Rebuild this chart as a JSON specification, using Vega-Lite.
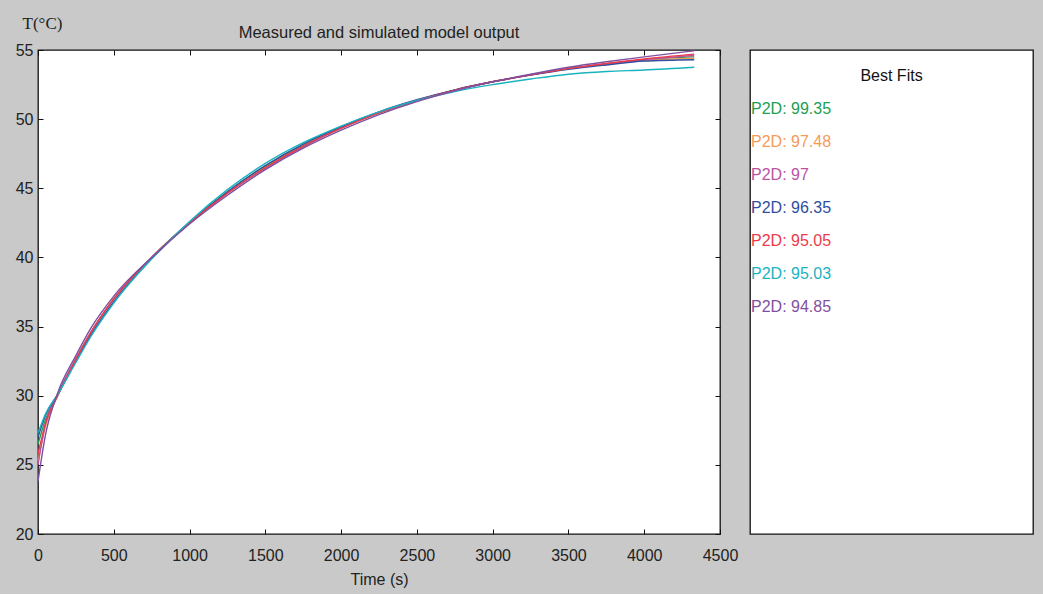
{
  "$schema": "https://vega.github.io/schema/vega-lite/v6.json",
  "background": "#c8c9c8",
  "padding": {"left": 14, "top": 13, "right": 10, "bottom": 6},
  "bounds": "flush",
  "spacing": 30,
  "config": {
    "font": "Liberation Sans",
    "view": {"stroke": "#111111", "strokeWidth": 1.3, "fill": "white"},
    "axis": {
      "grid": false,
      "domain": false,
      "labelFlush": false,
      "tickColor": "#111111",
      "tickSize": -5,
      "labelFont": "Liberation Sans",
      "labelFontSize": 16,
      "labelColor": "#222222",
      "titleFontWeight": "normal",
      "titleColor": "#222222"
    }
  },
  "datasets": {
    "curves": [
      {"series": "P2D: 99.35", "t": 0, "T": 26.5}, {"series": "P2D: 99.35", "t": 50, "T": 28.3}, {"series": "P2D: 99.35", "t": 130, "T": 30.0}, {"series": "P2D: 99.35", "t": 250, "T": 32.6}, {"series": "P2D: 99.35", "t": 350, "T": 34.6}, {"series": "P2D: 99.35", "t": 500, "T": 37.0}, {"series": "P2D: 99.35", "t": 750, "T": 40.0}, {"series": "P2D: 99.35", "t": 1000, "T": 42.55}, {"series": "P2D: 99.35", "t": 1250, "T": 44.75}, {"series": "P2D: 99.35", "t": 1500, "T": 46.6}, {"series": "P2D: 99.35", "t": 1750, "T": 48.1}, {"series": "P2D: 99.35", "t": 2000, "T": 49.35}, {"series": "P2D: 99.35", "t": 2250, "T": 50.45}, {"series": "P2D: 99.35", "t": 2500, "T": 51.35}, {"series": "P2D: 99.35", "t": 2750, "T": 52.1}, {"series": "P2D: 99.35", "t": 3000, "T": 52.7}, {"series": "P2D: 99.35", "t": 3250, "T": 53.2}, {"series": "P2D: 99.35", "t": 3500, "T": 53.65}, {"series": "P2D: 99.35", "t": 3750, "T": 54.0}, {"series": "P2D: 99.35", "t": 4000, "T": 54.3}, {"series": "P2D: 99.35", "t": 4330, "T": 54.5},
      {"series": "P2D: 97.48", "t": 0, "T": 25.3}, {"series": "P2D: 97.48", "t": 50, "T": 27.8}, {"series": "P2D: 97.48", "t": 130, "T": 30.0}, {"series": "P2D: 97.48", "t": 250, "T": 32.6}, {"series": "P2D: 97.48", "t": 350, "T": 34.6}, {"series": "P2D: 97.48", "t": 500, "T": 37.0}, {"series": "P2D: 97.48", "t": 750, "T": 40.0}, {"series": "P2D: 97.48", "t": 1000, "T": 42.5}, {"series": "P2D: 97.48", "t": 1250, "T": 44.65}, {"series": "P2D: 97.48", "t": 1500, "T": 46.5}, {"series": "P2D: 97.48", "t": 1750, "T": 48.05}, {"series": "P2D: 97.48", "t": 2000, "T": 49.35}, {"series": "P2D: 97.48", "t": 2250, "T": 50.45}, {"series": "P2D: 97.48", "t": 2500, "T": 51.35}, {"series": "P2D: 97.48", "t": 2750, "T": 52.1}, {"series": "P2D: 97.48", "t": 3000, "T": 52.7}, {"series": "P2D: 97.48", "t": 3250, "T": 53.2}, {"series": "P2D: 97.48", "t": 3500, "T": 53.65}, {"series": "P2D: 97.48", "t": 3750, "T": 54.0}, {"series": "P2D: 97.48", "t": 4000, "T": 54.25}, {"series": "P2D: 97.48", "t": 4330, "T": 54.4},
      {"series": "P2D: 97", "t": 0, "T": 25.0}, {"series": "P2D: 97", "t": 50, "T": 28.0}, {"series": "P2D: 97", "t": 130, "T": 30.1}, {"series": "P2D: 97", "t": 250, "T": 32.7}, {"series": "P2D: 97", "t": 350, "T": 34.6}, {"series": "P2D: 97", "t": 500, "T": 37.0}, {"series": "P2D: 97", "t": 750, "T": 40.0}, {"series": "P2D: 97", "t": 1000, "T": 42.5}, {"series": "P2D: 97", "t": 1250, "T": 44.65}, {"series": "P2D: 97", "t": 1500, "T": 46.45}, {"series": "P2D: 97", "t": 1750, "T": 48.0}, {"series": "P2D: 97", "t": 2000, "T": 49.35}, {"series": "P2D: 97", "t": 2250, "T": 50.45}, {"series": "P2D: 97", "t": 2500, "T": 51.35}, {"series": "P2D: 97", "t": 2750, "T": 52.1}, {"series": "P2D: 97", "t": 3000, "T": 52.7}, {"series": "P2D: 97", "t": 3250, "T": 53.2}, {"series": "P2D: 97", "t": 3500, "T": 53.65}, {"series": "P2D: 97", "t": 3750, "T": 54.0}, {"series": "P2D: 97", "t": 4000, "T": 54.3}, {"series": "P2D: 97", "t": 4330, "T": 54.6},
      {"series": "P2D: 96.35", "t": 0, "T": 27.0}, {"series": "P2D: 96.35", "t": 50, "T": 28.6}, {"series": "P2D: 96.35", "t": 130, "T": 30.1}, {"series": "P2D: 96.35", "t": 250, "T": 32.5}, {"series": "P2D: 96.35", "t": 350, "T": 34.4}, {"series": "P2D: 96.35", "t": 500, "T": 36.8}, {"series": "P2D: 96.35", "t": 750, "T": 39.9}, {"series": "P2D: 96.35", "t": 1000, "T": 42.5}, {"series": "P2D: 96.35", "t": 1250, "T": 44.75}, {"series": "P2D: 96.35", "t": 1500, "T": 46.65}, {"series": "P2D: 96.35", "t": 1750, "T": 48.2}, {"series": "P2D: 96.35", "t": 2000, "T": 49.45}, {"series": "P2D: 96.35", "t": 2250, "T": 50.53}, {"series": "P2D: 96.35", "t": 2500, "T": 51.4}, {"series": "P2D: 96.35", "t": 2750, "T": 52.12}, {"series": "P2D: 96.35", "t": 3000, "T": 52.7}, {"series": "P2D: 96.35", "t": 3250, "T": 53.18}, {"series": "P2D: 96.35", "t": 3500, "T": 53.6}, {"series": "P2D: 96.35", "t": 3750, "T": 53.92}, {"series": "P2D: 96.35", "t": 4000, "T": 54.2}, {"series": "P2D: 96.35", "t": 4330, "T": 54.3},
      {"series": "P2D: 95.05", "t": 0, "T": 25.8}, {"series": "P2D: 95.05", "t": 50, "T": 28.0}, {"series": "P2D: 95.05", "t": 130, "T": 30.0}, {"series": "P2D: 95.05", "t": 250, "T": 32.6}, {"series": "P2D: 95.05", "t": 350, "T": 34.6}, {"series": "P2D: 95.05", "t": 500, "T": 37.0}, {"series": "P2D: 95.05", "t": 750, "T": 40.0}, {"series": "P2D: 95.05", "t": 1000, "T": 42.5}, {"series": "P2D: 95.05", "t": 1250, "T": 44.65}, {"series": "P2D: 95.05", "t": 1500, "T": 46.5}, {"series": "P2D: 95.05", "t": 1750, "T": 48.05}, {"series": "P2D: 95.05", "t": 2000, "T": 49.35}, {"series": "P2D: 95.05", "t": 2250, "T": 50.45}, {"series": "P2D: 95.05", "t": 2500, "T": 51.35}, {"series": "P2D: 95.05", "t": 2750, "T": 52.1}, {"series": "P2D: 95.05", "t": 3000, "T": 52.7}, {"series": "P2D: 95.05", "t": 3250, "T": 53.2}, {"series": "P2D: 95.05", "t": 3500, "T": 53.65}, {"series": "P2D: 95.05", "t": 3750, "T": 54.02}, {"series": "P2D: 95.05", "t": 4000, "T": 54.35}, {"series": "P2D: 95.05", "t": 4330, "T": 54.7},
      {"series": "P2D: 95.03", "t": 0, "T": 27.3}, {"series": "P2D: 95.03", "t": 50, "T": 28.7}, {"series": "P2D: 95.03", "t": 130, "T": 30.1}, {"series": "P2D: 95.03", "t": 250, "T": 32.4}, {"series": "P2D: 95.03", "t": 350, "T": 34.3}, {"series": "P2D: 95.03", "t": 500, "T": 36.7}, {"series": "P2D: 95.03", "t": 750, "T": 39.9}, {"series": "P2D: 95.03", "t": 1000, "T": 42.6}, {"series": "P2D: 95.03", "t": 1250, "T": 44.9}, {"series": "P2D: 95.03", "t": 1500, "T": 46.8}, {"series": "P2D: 95.03", "t": 1750, "T": 48.3}, {"series": "P2D: 95.03", "t": 2000, "T": 49.5}, {"series": "P2D: 95.03", "t": 2250, "T": 50.53}, {"series": "P2D: 95.03", "t": 2500, "T": 51.35}, {"series": "P2D: 95.03", "t": 2750, "T": 52.0}, {"series": "P2D: 95.03", "t": 3000, "T": 52.5}, {"series": "P2D: 95.03", "t": 3250, "T": 52.9}, {"series": "P2D: 95.03", "t": 3500, "T": 53.25}, {"series": "P2D: 95.03", "t": 3750, "T": 53.45}, {"series": "P2D: 95.03", "t": 4000, "T": 53.55}, {"series": "P2D: 95.03", "t": 4330, "T": 53.75},
      {"series": "P2D: 94.85", "t": 0, "T": 23.8}, {"series": "P2D: 94.85", "t": 50, "T": 27.2}, {"series": "P2D: 94.85", "t": 130, "T": 30.2}, {"series": "P2D: 94.85", "t": 250, "T": 32.9}, {"series": "P2D: 94.85", "t": 350, "T": 34.9}, {"series": "P2D: 94.85", "t": 500, "T": 37.2}, {"series": "P2D: 94.85", "t": 750, "T": 40.0}, {"series": "P2D: 94.85", "t": 1000, "T": 42.42}, {"series": "P2D: 94.85", "t": 1250, "T": 44.5}, {"series": "P2D: 94.85", "t": 1500, "T": 46.35}, {"series": "P2D: 94.85", "t": 1750, "T": 47.9}, {"series": "P2D: 94.85", "t": 2000, "T": 49.2}, {"series": "P2D: 94.85", "t": 2250, "T": 50.33}, {"series": "P2D: 94.85", "t": 2500, "T": 51.27}, {"series": "P2D: 94.85", "t": 2750, "T": 52.05}, {"series": "P2D: 94.85", "t": 3000, "T": 52.7}, {"series": "P2D: 94.85", "t": 3250, "T": 53.25}, {"series": "P2D: 94.85", "t": 3500, "T": 53.75}, {"series": "P2D: 94.85", "t": 3750, "T": 54.15}, {"series": "P2D: 94.85", "t": 4000, "T": 54.5}, {"series": "P2D: 94.85", "t": 4330, "T": 54.95}
    ],
    "fits": [
      {"label": "P2D: 99.35"},
      {"label": "P2D: 97.48"},
      {"label": "P2D: 97"},
      {"label": "P2D: 96.35"},
      {"label": "P2D: 95.05"},
      {"label": "P2D: 95.03"},
      {"label": "P2D: 94.85"}
    ]
  },
  "hconcat": [
    {
      "width": 682,
      "height": 484,
      "title": {"text": "Measured and simulated model output", "fontSize": 16.5, "fontWeight": "normal", "font": "Liberation Sans", "color": "#222222", "anchor": "middle", "offset": -27.5},
      "data": {"name": "curves"},
      "layer": [
        {
          "mark": {"type": "line", "strokeWidth": 1.4, "interpolate": "monotone"},
          "encoding": {
            "x": {"field": "t", "type": "quantitative", "scale": {"domain": [0, 4500], "nice": false},
                  "axis": {"title": "Time (s)", "format": "d", "values": [0, 500, 1000, 1500, 2000, 2500, 3000, 3500, 4000, 4500], "labelPadding": 18, "titleFontSize": 16, "titlePadding": 8}},
            "y": {"field": "T", "type": "quantitative", "scale": {"domain": [20, 55], "nice": false},
                  "axis": {"title": "T(°C)", "titleFont": "Liberation Serif", "titleFontSize": 17, "titleAngle": 0, "titleX": 4, "titleY": -27, "titleAlign": "center", "titleBaseline": "middle", "values": [20, 25, 30, 35, 40, 45, 50, 55], "labelPadding": 10}},
            "color": {"field": "series", "type": "nominal",
                      "scale": {"domain": ["P2D: 99.35", "P2D: 97.48", "P2D: 97", "P2D: 96.35", "P2D: 95.05", "P2D: 95.03", "P2D: 94.85"],
                                "range": ["#1a9f55", "#f59b57", "#b9539f", "#2f4ea0", "#ec3a4a", "#19b3bf", "#7f4fa0"]},
                      "legend": null}
          }
        },
        {
          "mark": {"type": "point", "opacity": 0},
          "encoding": {
            "x": {"field": "t", "type": "quantitative", "scale": {"domain": [0, 4500], "nice": false},
                  "axis": {"orient": "top", "title": null, "labels": false, "values": [0, 500, 1000, 1500, 2000, 2500, 3000, 3500, 4000, 4500]}},
            "y": {"field": "T", "type": "quantitative", "scale": {"domain": [20, 55], "nice": false},
                  "axis": {"orient": "right", "title": null, "labels": false, "values": [20, 25, 30, 35, 40, 45, 50, 55]}}
          }
        }
      ],
      "resolve": {"scale": {"x": "independent", "y": "independent"}, "axis": {"x": "independent", "y": "independent"}}
    },
    {
      "width": 283,
      "height": 484,
      "title": {"text": "Best Fits", "fontSize": 16, "fontWeight": "normal", "font": "Liberation Sans", "color": "#111111", "anchor": "middle", "offset": -34},
      "data": {"name": "fits"},
      "mark": {"type": "text", "align": "left", "baseline": "middle", "fontSize": 16, "font": "Liberation Sans", "dx": 1},
      "encoding": {
        "x": {"datum": 0, "type": "quantitative", "scale": {"domain": [0, 1]}, "axis": null},
        "y": {"field": "label", "type": "ordinal", "sort": null, "scale": {"type": "point", "range": [59, 257], "padding": 0}, "axis": null},
        "text": {"field": "label"},
        "color": {"field": "label", "type": "nominal",
                  "scale": {"domain": ["P2D: 99.35", "P2D: 97.48", "P2D: 97", "P2D: 96.35", "P2D: 95.05", "P2D: 95.03", "P2D: 94.85"],
                            "range": ["#1a9f55", "#f59b57", "#b9539f", "#2f4ea0", "#ec3a4a", "#19b3bf", "#7f4fa0"]},
                  "legend": null}
      }
    }
  ]
}
